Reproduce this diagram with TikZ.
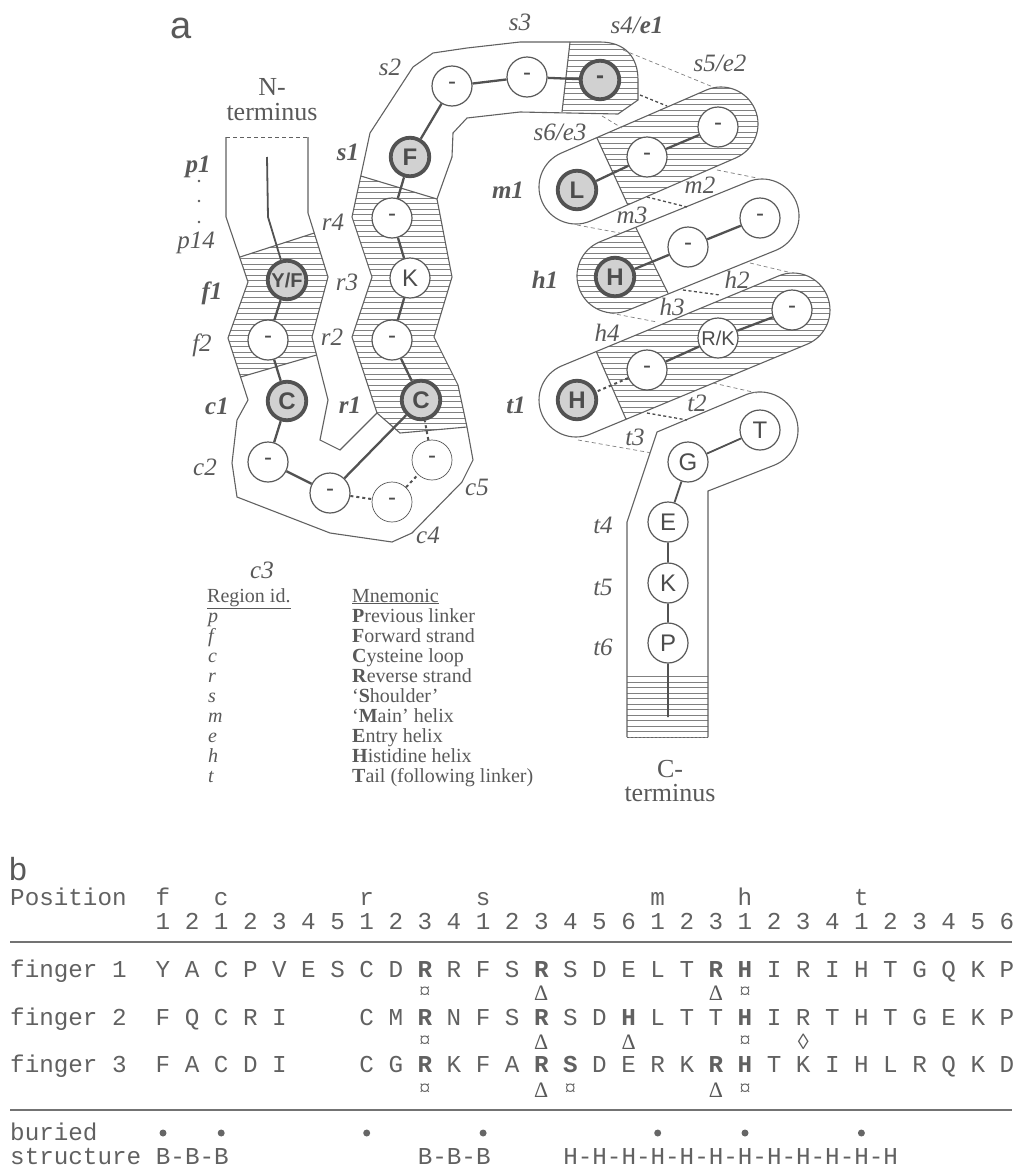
\documentclass[tikz,border=0pt]{standalone}
\usepackage{fontspec}
\setmainfont{Liberation Serif}
\setsansfont{Liberation Sans}
\setmonofont{Liberation Mono}
\usetikzlibrary{calc}
\newcommand{\fs}[1]{\fontsize{#1}{#1}\selectfont}
\newcommand{\cappath}[3]{($(#1)!37pt!90:(#2)$) -- ($(#2)!37pt!-90:(#1)$) arc[start angle=#3+90, end angle=#3-90, radius=37pt] -- ($(#1)!37pt!-90:(#2)$) arc[start angle=#3-90, end angle=#3-270, radius=37pt] -- cycle}
\newcommand{\hatchrows}[4]{\foreach \k in {#3,...,#4} \draw[hatchl] (#1,\k*5.5) -- (#2,\k*5.5);}
\colorlet{ink}{black!65}
\begin{document}
\begin{tikzpicture}[x=1pt,y=-1pt,
  outl/.style={draw=black!62,line width=1.1pt},
  hatchl/.style={draw=black!50,line width=0.75pt},
  res/.style={circle,draw=black!65,line width=1.2pt,fill=white,minimum size=40pt,inner sep=0pt,font=\sffamily\fs{24},text=black!70},
  key/.style={circle,draw=black!68,line width=3.8pt,fill=black!18,minimum size=38.5pt,inner sep=0pt,font=\sffamily\bfseries\fs{24},text=black!70},
  faint/.style={res,line width=0.7pt},
  link/.style={draw=black!68,line width=2.3pt},
  dlink/.style={draw=black!68,line width=2pt,dash pattern=on 3pt off 3pt},
  lab/.style={font=\itshape\fs{25},text=ink,inner sep=0pt},
  blab/.style={font=\bfseries\itshape\fs{25},text=ink,inner sep=0pt},
  term/.style={font=\fs{26},text=ink,inner sep=0pt,anchor=base},
  leg/.style={font=\fs{20},text=ink,inner sep=0pt,anchor=base west},
  dsh/.style={draw=black!50,line width=0.7pt,dash pattern=on 4pt off 3pt},
  dshk/.style={draw=black!70,line width=1.3pt,dash pattern=on 3pt off 2.5pt},
  tt/.style={font=\ttfamily\fs{24.25},text=black!62,inner sep=0pt,anchor=base},
  sy/.style={font=\fs{22},text=ink,inner sep=0pt},
]
\useasboundingbox (0,0) rectangle (1016,1170);

% ---------- hatching of strands ----------
\begin{scope}
\clip (240,257) -- (314.3,233) -- (328,277) -- (312,337) -- (316.6,355) -- (240.6,377) -- (228,338) -- (248,282) -- cycle;
\hatchrows{220}{335}{42}{69}
\end{scope}
\draw[outl] (240,257) -- (314.3,233) (240.6,377) -- (316.6,355);

\begin{scope}
\clip (360.8,176) -- (437,199) -- (452,277) -- (434,337) -- (458,385) -- (467,427) -- (400,433) -- (377,413) -- (352,337) -- (372,277) -- (352,217) -- cycle;
\hatchrows{345}{475}{32}{79}
\end{scope}
\draw[outl] (360.8,176) -- (437,199) (377,413) -- (400,433) -- (467,427);

\begin{scope}
\clip (570,42) -- (600,42) .. controls (625,42) and (638,57) .. (638,80) -- (638,100) -- (618,114) -- (562,112) -- cycle;
\hatchrows{555}{645}{7}{21}
\end{scope}
\draw[outl] (570,42) -- (562,112);

% ---------- big outline ----------
\draw[outl] (308,137) -- (308,213) -- (328,277) -- (312,337) -- (328,400) -- (320,440) -- (340,450) -- (377,413) -- (352,337) -- (372,277) -- (352,217) -- (370,133) -- (413,67) -- (433,53) -- (467,48) -- (520,42) -- (600,42) .. controls (625,42) and (638,57) .. (638,80) -- (638,100) -- (618,114) -- (520,112) -- (467,118) -- (453,133) -- (452,157) -- (437,199) -- (452,277) -- (434,337) -- (458,385) -- (467,427) -- (473,460) -- (462,482) -- (412,533) -- (392,542) -- (330,533) -- (237,497) -- (232,463) -- (237,420) -- (248,400) -- (228,338) -- (248,282) -- (226,217) -- (226,137);
\draw[outl,line width=0.8pt,dash pattern=on 4pt off 3pt] (226,137) -- (308,137);

% ---------- helix capsules ----------
\coordinate (ca1) at (576,187); \coordinate (cb1) at (721,124);
\coordinate (ca2) at (614,276); \coordinate (cb2) at (762,216);
\coordinate (ca3) at (576,400); \coordinate (cb3) at (793,310);

\begin{scope}
\clip \cappath{ca1}{cb1}{23.5};
\clip (561,60) -- (644,240) -- (820,240) -- (820,60) -- cycle;
\hatchrows{530}{820}{15}{43}
\end{scope}
\begin{scope}\clip \cappath{ca1}{cb1}{23.5}; \draw[outl] (561,60) -- (644,240); \end{scope}
\draw[outl] \cappath{ca1}{cb1}{23.5};

\begin{scope}
\clip \cappath{ca2}{cb2}{22.1};
\clip (500,170) -- (607.6,170) -- (686,330) -- (500,330) -- cycle;
\hatchrows{530}{820}{31}{59}
\end{scope}
\begin{scope}\clip \cappath{ca2}{cb2}{22.1}; \draw[outl] (607.6,170) -- (686,330); \end{scope}
\draw[outl] \cappath{ca2}{cb2}{22.1};

\begin{scope}
\clip \cappath{ca3}{cb3}{22.5};
\clip (556,260) -- (644,460) -- (850,460) -- (850,260) -- cycle;
\hatchrows{530}{850}{48}{81}
\end{scope}
\begin{scope}\clip \cappath{ca3}{cb3}{22.5}; \draw[outl] (556,260) -- (644,460); \end{scope}
\draw[outl] \cappath{ca3}{cb3}{22.5};

% ---------- tail ----------
\begin{scope}
\clip (627,673) rectangle (708,738);
\hatchrows{620}{715}{123}{134}
\end{scope}
\draw[outl] (627,737) -- (627,522) -- (657,432) -- (746.4,394.5) arc[start angle=111, end angle=-69, radius=38pt] -- (708,491) -- (708,737);
\draw[outl,line width=1pt,dash pattern=on 2pt off 2pt] (627,737) -- (708,737);

% ---------- dashed links between helix turns ----------
\draw[dsh] (623,50) -- (713,87);
\draw[dshk] (640,95) -- (667,106);
\draw[dsh] (602,116) -- (622,128);
\draw[dsh] (717,170) -- (757,178);
\draw[dshk] (647,197) -- (687,207);
\draw[dsh] (577,225) -- (620,233);
\draw[dsh] (750,263) -- (788,272);
\draw[dshk] (683,290) -- (720,295);
\draw[dsh] (610,313) -- (657,322);
\draw[dsh] (713,383) -- (757,393);
\draw[dshk] (647,413) -- (687,420);
\draw[dsh] (578,440) -- (652,453);

% ---------- residues ----------
\node[key] (nYF) at (287,280) {\fs{20}Y/F};
\node[res] (nf2) at (268,340) {-};
\node[key] (nC1) at (287,401) {C};
\node[res] (nc2) at (268,462) {-};
\node[res] (nc3) at (330,493) {-};
\node[faint] (nc4) at (392,502) {-};
\node[faint] (nc5) at (432,460) {-};
\node[key] (nC2) at (421,400) {C};
\node[res] (nr2) at (392,340) {-};
\node[res] (nK) at (410,278) {K};
\node[res] (nr4) at (392,218) {-};
\node[key] (nF) at (410,157) {F};
\node[res] (ns2) at (452,86) {-};
\node[res] (ns3) at (527,77) {-};
\node[key] (ns4) at (600,80) {-};
\node[res] (ns5) at (718,127) {-};
\node[res] (ns6) at (647,157) {-};
\node[key] (nL) at (577,190) {L};
\node[res] (nm2) at (760,218) {-};
\node[res] (nm3) at (688,247) {-};
\node[key] (nH1) at (615,277) {H};
\node[res] (nh2) at (792,310) {-};
\node[res] (nRK) at (718,338) {\fs{20}R/K};
\node[res] (nh4) at (647,370) {-};
\node[key] (nH2) at (577,400) {H};
\node[res] (nT) at (760,430) {T};
\node[res] (nG) at (688,462) {G};
\node[res] (nE) at (668,522) {E};
\node[res] (nK2) at (668,583) {K};
\node[res] (nP) at (668,643) {P};

\coordinate (ntop) at (267,157);
\coordinate (nbend) at (268,217);
\coordinate (cend) at (668,717);
\draw[link,line width=1.8pt] (ntop) -- (nbend) -- (nYF);
\draw[link] (nYF) -- (nf2) -- (nC1) -- (nc2) -- (nc3) -- (nC2) -- (nr2) -- (nK) -- (nr4) -- (nF) -- (ns2) -- (ns3) -- (ns4);
\draw[dlink] (nc3) -- (nc4) -- (nc5) -- (nC2);
\draw[link] (ns5) -- (ns6) -- (nL);
\draw[link] (nm2) -- (nm3) -- (nH1);
\draw[link] (nh2) -- (nRK) -- (nh4);
\draw[dlink] (nh4) -- (nH2);
\draw[link,line width=1.8pt] (nT) -- (nG) -- (nE) -- (nK2) -- (nP) -- (cend);

% ---------- region labels ----------
\node[blab] at (198,167) {p1};
\fill[ink] (199,181) circle[radius=1.4pt] (199,201) circle[radius=1.4pt] (199,222) circle[radius=1.4pt];
\node[lab] at (196,243) {p14};
\node[blab] at (212,293) {f1};
\node[lab] at (202,345) {f2};
\node[blab] at (217,406) {c1};
\node[lab] at (205,467) {c2};
\node[lab] at (262,570) {c3};
\node[lab] at (428,535) {c4};
\node[lab] at (477,487) {c5};
\node[blab] at (350,405) {r1};
\node[lab] at (332,337) {r2};
\node[lab] at (347,282) {r3};
\node[lab] at (333,222) {r4};
\node[blab] at (348,152) {s1};
\node[lab] at (390,67) {s2};
\node[lab] at (520,22) {s3};
\node[lab] at (637,25) {s4/\textbf{e1}};
\node[lab] at (720,63) {s5/e2};
\node[lab] at (560,132) {s6/e3};
\node[blab] at (508,190) {m1};
\node[lab] at (700,185) {m2};
\node[lab] at (632,215) {m3};
\node[blab] at (545,280) {h1};
\node[lab] at (737,280) {h2};
\node[lab] at (672,307) {h3};
\node[lab] at (607,333) {h4};
\node[blab] at (516,405) {t1};
\node[lab] at (697,403) {t2};
\node[lab] at (635,437) {t3};
\node[lab] at (603,525) {t4};
\node[lab] at (603,587) {t5};
\node[lab] at (603,647) {t6};

\node[term] at (272,95) {N-};
\node[term] at (272,120) {terminus};
\node[term] at (670,777) {C-};
\node[term] at (670,801) {terminus};

\node[font=\sffamily\fs{38},text=ink,inner sep=0pt,anchor=base] at (181,38) {a};
\node[font=\sffamily\fs{32},text=ink,inner sep=0pt,anchor=base west] at (9,880) {b};

% ---------- legend ----------
\node[leg] at (207,602) {\underline{Region id.}};
\node[leg] at (352,602) {\underline{Mnemonic}};
\node[leg] at (208,622) {\textit{p}}; \node[leg] at (352,622) {\textbf{P}revious linker};
\node[leg] at (208,642) {\textit{f}}; \node[leg] at (352,642) {\textbf{F}orward strand};
\node[leg] at (208,662) {\textit{c}}; \node[leg] at (352,662) {\textbf{C}ysteine loop};
\node[leg] at (208,682) {\textit{r}}; \node[leg] at (352,682) {\textbf{R}everse strand};
\node[leg] at (208,702) {\textit{s}}; \node[leg] at (352,702) {‘\textbf{S}houlder’};
\node[leg] at (208,722) {\textit{m}}; \node[leg] at (352,722) {‘\textbf{M}ain’ helix};
\node[leg] at (208,742) {\textit{e}}; \node[leg] at (352,742) {\textbf{E}ntry helix};
\node[leg] at (208,762) {\textit{h}}; \node[leg] at (352,762) {\textbf{H}istidine helix};
\node[leg] at (208,782) {\textit{t}}; \node[leg] at (352,782) {\textbf{T}ail (following linker)};

% ---------- table (b) ----------
\node[tt,anchor=base west] at (10,905) {Position};
\foreach \c/\i in {f/1,c/3,r/8,s/12,m/18,h/21,t/25} \node[tt] at ({163+29.1*(\i-1)},905) {\c};
\foreach \c [count=\i] in {1,2,1,2,3,4,5,1,2,3,4,1,2,3,4,5,6,1,2,3,1,2,3,4,1,2,3,4,5,6}
  \node[tt] at ({163+29.1*(\i-1)},929) {\c};
\draw[draw=black!55,line width=2.4pt] (10,942) -- (1012,942);
\node[tt,anchor=base west] at (10,977) {finger 1};
\foreach \c [count=\i] in {Y,A,C,P,V,E,S,C,D,\textbf{R},R,F,S,\textbf{R},S,D,E,L,T,\textbf{R},\textbf{H},I,R,I,H,T,G,Q,K,P}
  \node[tt] at ({163+29.1*(\i-1)},977) {\c};
\node[tt,anchor=base west] at (10,1025) {finger 2};
\foreach \c [count=\i] in {F,Q,C,R,I,{},{},C,M,\textbf{R},N,F,S,\textbf{R},S,D,\textbf{H},L,T,T,\textbf{H},I,R,T,H,T,G,E,K,P}
  \node[tt] at ({163+29.1*(\i-1)},1025) {\c};
\node[tt,anchor=base west] at (10,1072) {finger 3};
\foreach \c [count=\i] in {F,A,C,D,I,{},{},C,G,\textbf{R},K,F,A,\textbf{R},\textbf{S},D,E,R,K,\textbf{R},\textbf{H},T,K,I,H,L,R,Q,K,D}
  \node[tt] at ({163+29.1*(\i-1)},1072) {\c};
% symbols
\foreach \i/\s in {10/¤,14/Δ,20/Δ,21/¤} \node[sy] at ({163+29.1*(\i-1)},993) {\s};
\foreach \i/\s in {10/¤,14/Δ,17/Δ,21/¤,23/◊} \node[sy] at ({163+29.1*(\i-1)},1042) {\s};
\foreach \i/\s in {10/¤,14/Δ,15/¤,20/Δ,21/¤} \node[sy] at ({163+29.1*(\i-1)},1090) {\s};
\draw[draw=black!55,line width=2.4pt] (10,1110) -- (1012,1110);
\node[tt,anchor=base west] at (10,1140) {buried};
\foreach \i in {1,3,8,12,18,21,25} \fill[black!60] ({163+29.1*(\i-1)},1133) circle[radius=3.5pt];
\node[tt,anchor=base west] at (10,1164) {structure};
\node[tt,anchor=base west] at ({163-7.3},1164) {B-B-B};
\node[tt,anchor=base west] at ({163+29.1*9-7.3},1164) {B-B-B};
\node[tt,anchor=base west] at ({163+29.1*14-7.3},1164) {H-H-H-H-H-H-H-H-H-H-H-H};
\end{tikzpicture}
\end{document}
